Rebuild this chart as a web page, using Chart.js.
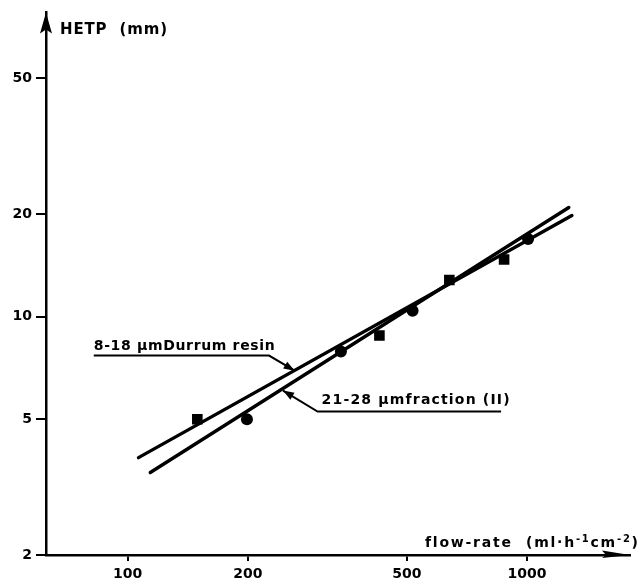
<!DOCTYPE html>
<html>
<head>
<meta charset="utf-8">
<script src="https://cdn.jsdelivr.net/npm/chart.js@4.4.1/dist/chart.umd.min.js"></script>
<style>
  html, body { margin: 0; padding: 0; background: #ffffff; }
  #c { display: block; }
</style>
</head>
<body>
<canvas id="c" width="643" height="584"></canvas>
<script>
// ---- data (log-log plot) ----
const xTicks = [100, 200, 500, 1000];
const yTicks = [2, 5, 10, 20, 50];

// fitted straight lines (end points)
const resinLineX = [106.5, 1295];      // 8-18 µm Durrum resin
const resinLineY = [3.86, 19.8];
const fractionLineX = [114, 1272];     // 21-28 µm fraction (II)
const fractionLineY = [3.49, 20.9];

// measured points
const squareX = [149.5, 427, 639, 876];
const squareY = [5.0, 8.8, 12.8, 14.7];
const circleX = [199, 342, 517, 1006];
const circleY = [5.0, 7.9, 10.4, 16.9];

// annotation anchors (data units)
const resinLabel = { text: '8-18 µmDurrum resin', x0: 82.3, x1: 226, y: 7.69, tipX: 262, tipY: 6.94 };
const fractionLabel = { text: '21-28 µmfraction (II)', x0: 299, x1: 861, y: 5.27, tipX: 245, tipY: 6.07 };

const pts = (xs, ys) => xs.map((v, i) => ({ x: v, y: ys[i] }));

const FONT = "'DejaVu Sans', 'Liberation Sans', sans-serif";

function drawFitted(ctx, segs, x, y, width) {
  const items = [];
  segs.forEach(s => {
    ctx.font = s.font;
    [...s.t].forEach(ch => items.push({ ch, font: s.font, dy: s.dy || 0, w: ctx.measureText(ch).width }));
  });
  const natural = items.reduce((a, b) => a + b.w, 0);
  const gap = items.length > 1 ? (width - natural) / (items.length - 1) : 0;
  let cx = x;
  items.forEach(it => {
    ctx.font = it.font;
    ctx.fillText(it.ch, cx, y + it.dy);
    cx += it.w + gap;
  });
}

function arrowHead(ctx, fx, fy, tx, ty, len, half) {
  const a = Math.atan2(ty - fy, tx - fx);
  ctx.beginPath();
  ctx.moveTo(tx, ty);
  ctx.lineTo(tx - len * Math.cos(a) + half * Math.sin(a), ty - len * Math.sin(a) - half * Math.cos(a));
  ctx.lineTo(tx - len * Math.cos(a) - half * Math.sin(a), ty - len * Math.sin(a) + half * Math.cos(a));
  ctx.closePath();
  ctx.fill();
}

const decor = {
  id: 'decor',
  afterDraw(chart) {
    const { ctx, chartArea: a, scales: { x, y } } = chart;
    ctx.save();
    ctx.fillStyle = '#000';
    ctx.strokeStyle = '#000';
    ctx.textBaseline = 'middle';
    ctx.textAlign = 'left';

    // axis arrows
    ctx.beginPath();
    ctx.moveTo(a.left, a.top);
    ctx.lineTo(a.left - 6, a.top + 21);
    ctx.lineTo(a.left, a.top + 17);
    ctx.lineTo(a.left + 6, a.top + 21);
    ctx.closePath();
    ctx.fill();

    ctx.beginPath();
    ctx.moveTo(a.right, a.bottom);
    ctx.lineTo(a.right - 28, a.bottom - 4.5);
    ctx.lineTo(a.right - 24, a.bottom);
    ctx.lineTo(a.right - 28, a.bottom + 3);
    ctx.closePath();
    ctx.fill();

    // axis titles
    drawFitted(ctx, [{ t: 'HETP  (mm)', font: `bold 15px ${FONT}` }], a.left + 14, a.top + 18, 107);
    const mf = `bold 14px ${FONT}`, sf = `bold 10px ${FONT}`;
    drawFitted(ctx, [
      { t: 'flow-rate  (ml·h', font: mf },
      { t: '-1', font: sf, dy: -4 },
      { t: 'cm', font: mf },
      { t: '-2', font: sf, dy: -4 },
      { t: ')', font: mf }
    ], a.left + 379, a.bottom - 12, 213);

    // annotations
    ctx.lineWidth = 2;
    const lab = (L) => ({
      x0: x.getPixelForValue(L.x0), x1: x.getPixelForValue(L.x1),
      yy: y.getPixelForValue(L.y),
      tx: x.getPixelForValue(L.tipX), ty: y.getPixelForValue(L.tipY)
    });
    const r = lab(resinLabel);
    drawFitted(ctx, [{ t: resinLabel.text, font: `bold 14px ${FONT}` }], r.x0, r.yy - 9, 181);
    ctx.beginPath();
    ctx.moveTo(r.x0, r.yy);
    ctx.lineTo(r.x1, r.yy);
    ctx.lineTo(r.tx, r.ty);
    ctx.stroke();
    arrowHead(ctx, r.x1, r.yy, r.tx, r.ty, 11, 4);

    const f = lab(fractionLabel);
    drawFitted(ctx, [{ t: fractionLabel.text, font: `bold 14px ${FONT}` }], f.x0 + 4, f.yy - 11, 188);
    ctx.beginPath();
    ctx.moveTo(f.x1, f.yy);
    ctx.lineTo(f.x0, f.yy);
    ctx.lineTo(f.tx, f.ty);
    ctx.stroke();
    arrowHead(ctx, f.x0, f.yy, f.tx, f.ty, 11, 4);

    ctx.restore();
  }
};

const tickFont = { family: FONT, size: 14, weight: 'bold' };

new Chart(document.getElementById('c'), {
  type: 'scatter',
  data: {
    datasets: [
      { data: pts(resinLineX, resinLineY), showLine: true, borderColor: '#000', borderWidth: 3.4,
        borderCapStyle: 'round', pointRadius: 0 },
      { data: pts(fractionLineX, fractionLineY), showLine: true, borderColor: '#000', borderWidth: 3.4,
        borderCapStyle: 'round', pointRadius: 0 },
      { data: pts(squareX, squareY), pointStyle: 'rect', pointRadius: 7.5, backgroundColor: '#000',
        borderColor: '#000', borderWidth: 0 },
      { data: pts(circleX, circleY), pointStyle: 'circle', pointRadius: 6, backgroundColor: '#000',
        borderColor: '#000', borderWidth: 0 }
    ]
  },
  options: {
    responsive: false,
    animation: false,
    layout: { padding: { top: 12, right: 13, left: 0, bottom: 0 } },
    plugins: { legend: { display: false }, tooltip: { enabled: false } },
    scales: {
      x: {
        type: 'logarithmic', min: 62.5, max: 1810,
        afterBuildTicks: s => { s.ticks = xTicks.map(v => ({ value: v })); },
        afterFit: s => { s.height = 29; },
        ticks: { color: '#000', font: tickFont, padding: 5, maxRotation: 0, autoSkip: false,
                 callback: v => String(v) },
        grid: { drawOnChartArea: false, drawTicks: true, tickLength: 6, color: '#000', lineWidth: 2 },
        border: { display: true, color: '#000', width: 2.5 }
      },
      y: {
        type: 'logarithmic', min: 2, max: 78,
        afterBuildTicks: s => { s.ticks = yTicks.map(v => ({ value: v })); },
        afterFit: s => { s.width = 46; },
        ticks: { color: '#000', font: tickFont, padding: 4, autoSkip: false,
                 callback: v => String(v) },
        grid: { drawOnChartArea: false, drawTicks: true, tickLength: 10, color: '#000', lineWidth: 2 },
        border: { display: true, color: '#000', width: 2.5 }
      }
    }
  },
  plugins: [decor]
});
</script>
</body>
</html>
